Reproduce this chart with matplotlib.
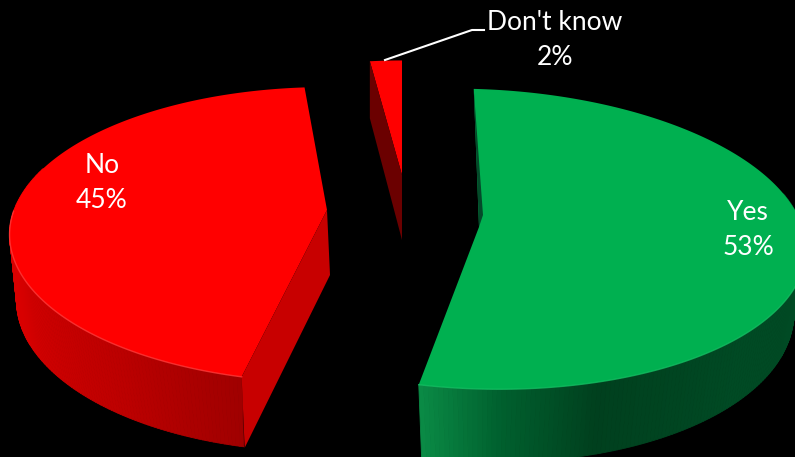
import matplotlib
matplotlib.use('Agg')
import matplotlib.pyplot as plt
from matplotlib.collections import PolyCollection
import numpy as np

categories = ['Yes', 'No', "Don't know"]
values = [53, 45, 2]

# view of each exploded slice: apex, radii, perspective, tilt, rotation (deg)
apex = [(479, 227), (327, 210), (402, 175)]
radii = [(326, 149), (313, 143.5), (282, 126)]
persp = [0.08, 0.167, 0.10]
tilt = [10, 0, 0]
rotate = [-1.0, 2.4, 0.0]
# bottom of the slice: apex shift, radii, perspective
bottom_shift = [(0, 65), (-7, 75), None]
bottom_radii = [(314, 158), (302, 150), None]
bottom_persp = [0.07, 0.10, None]
# start edge cut face: drop at the rim, shift at the apex
cut_rim = [(0, 0), (3, 71), (0, 57)]
cut_apex = [(4, -12), (3, 65), (0, 65)]
top_colors = ['#00B050', '#FF0000', '#FF0000']
cut_colors = ['#044A2A', '#C80000', '#6B0000']
rim_colors = ['#14BE62', '#FF3A3A', None]
# side shading along the angle
side_angles = [[90, 130, 160, 176, 189], [193, 215, 250, 355], None]
side_shades = [['#004A24', '#004A24', '#00401E', '#00602E', '#0A8A45'],
               ['#A00000', '#BC0000', '#D80000', '#E00000'], None]
label_pos = [(748, 230), (102, 183), (555, 40)]
leader_x = [385, 472, 484]
leader_y = [60, 30, 30]


def project(theta, c, r, k, s):
    t = np.radians(theta)
    w = 1 + k * np.cos(t)
    return c[0] + r[0] * np.sin(t) / w, c[1] - r[1] * np.cos(t) / w + s * np.sin(t)


def hex_rgb(c):
    return np.array(matplotlib.colors.to_rgb(c))


fig = plt.figure(figsize=(7.95, 4.57), dpi=100, facecolor='black')
ax = fig.add_axes([0, 0, 1, 1])
ax.set_xlim(0, 795)
ax.set_ylim(457, 0)
ax.axis('off')

edges = np.cumsum([0] + values) / sum(values) * 360
for i, name in enumerate(categories):
    t0 = edges[i] + rotate[i]
    t1 = edges[i + 1] + rotate[i]
    th = np.linspace(t0, t1, 241)
    x, y = project(th, apex[i], radii[i], persp[i], tilt[i])

    if side_angles[i] is not None:
        c2 = (apex[i][0] + bottom_shift[i][0], apex[i][1] + bottom_shift[i][1])
        bx, by = project(th, c2, bottom_radii[i], bottom_persp[i], tilt[i])
        stops = np.array([hex_rgb(c) for c in side_shades[i]])
        quads = []
        cols = []
        for j in range(len(th) - 1):
            # the back of the rim is hidden by the top face
            if np.cos(np.radians(th[j])) > 0.3:
                continue
            quads.append([(x[j], y[j]), (x[j + 1], y[j + 1]), (bx[j + 1], by[j + 1]), (bx[j], by[j])])
            cols.append([np.interp(th[j], side_angles[i], stops[:, n]) for n in range(3)])
        ax.add_collection(PolyCollection(quads, facecolors=cols, edgecolors=cols, linewidths=0.6))

    ax.fill(np.r_[apex[i][0], x], np.r_[apex[i][1], y], color=top_colors[i], lw=0)

    if rim_colors[i] is not None:
        front = np.cos(np.radians(th)) < 0
        ax.plot(x[front], y[front], color=rim_colors[i], lw=1.0, alpha=0.8)

    ax.fill([x[0], apex[i][0], apex[i][0] + cut_apex[i][0], x[0] + cut_rim[i][0]],
            [y[0], apex[i][1], apex[i][1] + cut_apex[i][1], y[0] + cut_rim[i][1]],
            color=cut_colors[i], lw=0)

    ax.text(label_pos[i][0], label_pos[i][1], f'{name}\n{values[i]}%', color='white',
            ha='center', va='center', family='Lato', fontsize=19, linespacing=1.47)

ax.plot(leader_x, leader_y, color='white', lw=1.5)

fig.savefig('out.png', dpi=100, facecolor='black')
